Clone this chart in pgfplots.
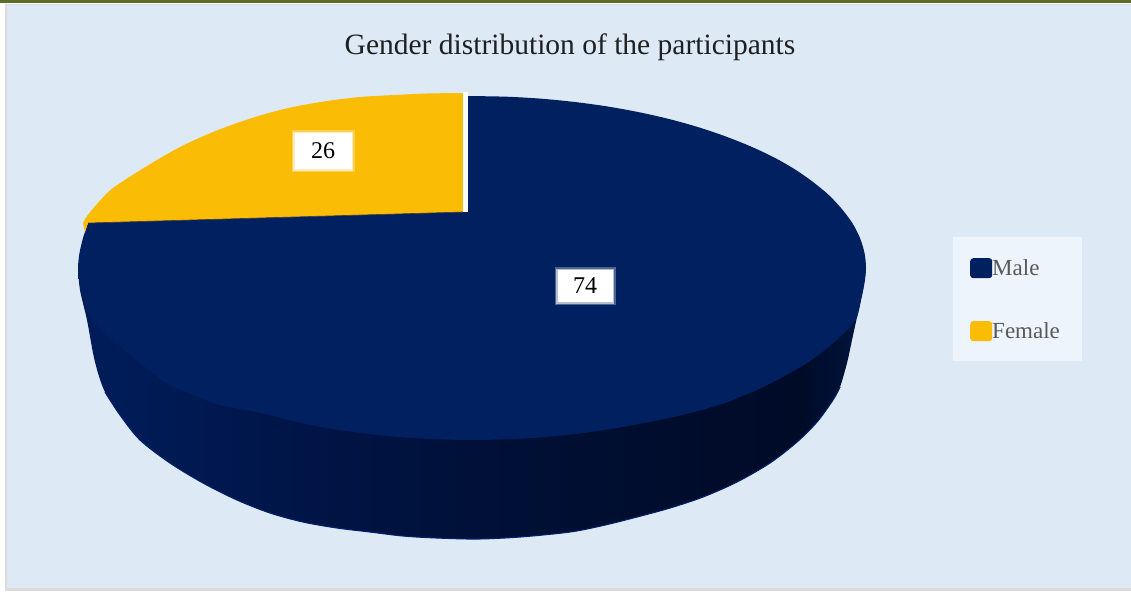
\documentclass[border=0pt]{standalone}
\usepackage{pgfplots}
\pgfplotsset{compat=1.18}
\usepackage{fontspec}
\setmainfont{Liberation Serif}
\definecolor{bgc}{HTML}{DDE9F5}
\definecolor{navy}{HTML}{002060}
\definecolor{gold}{HTML}{FBBC05}
\definecolor{rim}{HTML}{00226B}
\definecolor{legbg}{HTML}{EEF4FB}
\definecolor{legtx}{HTML}{595959}
\definecolor{sa}{HTML}{001C58}
\definecolor{sb}{HTML}{001547}
\definecolor{sc}{HTML}{001038}
\definecolor{sd}{HTML}{000C2A}
\definecolor{se}{HTML}{000B28}
\definecolor{sf}{HTML}{00163F}
\pgfdeclarehorizontalshading{sideshade}{100bp}{color(0bp)=(sa);color(27bp)=(sa);color(39bp)=(sb);color(50bp)=(sc);color(65bp)=(sd);color(71bp)=(se);color(75bp)=(sf);color(100bp)=(sf)}
\begin{document}
\begin{tikzpicture}
\begin{axis}[
  scale only axis, width=1131pt, height=592pt,
  xmin=0, xmax=1131, ymin=0, ymax=592, y dir=reverse,
  hide axis, clip=true,
  legend cell align=left,
  legend style={at={(axis cs:953,237)}, anchor=north west, draw=none, fill=none,
    font=\fontsize{23}{26}\selectfont\color{legtx},
    inner xsep=17pt, inner ysep=21pt, row sep=43pt,
    /tikz/every even column/.append style={column sep=0pt},
    nodes={inner sep=0pt, anchor=base west}, minimum height=0pt, text height=14pt, text depth=0pt},
  legend image code/.code={\fill[#1,rounded corners=3pt] (0pt,-3pt) rectangle (22pt,17pt);},
]
% page frame
\addplot[forget plot, draw=none, fill=white] coordinates {(0,0)(1131,0)(1131,592)(0,592)} -- cycle;
\addplot[forget plot, draw=none, fill=black!14] coordinates {(5,4)(1131,4)(1131,591)(5,591)} -- cycle;
\addplot[forget plot, draw=none, fill=bgc] coordinates {(7,5)(1131,5)(1131,588)(7,588)} -- cycle;
\addplot[forget plot, draw=none, fill={rgb,255:red,91;green,110;blue,40}] coordinates {(0,0)(1131,0)(1131,2.5)(0,2.5)} -- cycle;
% legend panel
\addplot[forget plot, draw=none, fill=legbg] coordinates {(953,237)(1082,237)(1082,361)(953,361)} -- cycle;
% side wall
\addplot[forget plot, draw=none, shading=sideshade, smooth, tension=0.5] coordinates {
 (78,268)(80,290)(87,320)(93,353)(98,373)(105,392)(120,415)(140,440)(170,463)(203,483)(237,500)(270,513)(303,522)(337,528)(370,532)(403,536)(437,538)(477,539)(520,537)(570,532)(603,525.5)(637,517)(670,508)(703,497)(737,482)(770,463)(797,442)(817,422)(833,400)(840,387)(847,363)(852,340)(857,317)(863,290)(866,268)};
\addplot[forget plot, rim, line width=1.1pt, smooth, tension=0.5] coordinates {
 (105,392)(120,415)(140,440)(170,463)(203,483)(237,500)(270,513)(303,522)(337,528)(370,532)(403,536)(437,538)(477,539)(520,537)(570,532)(603,525.5)(637,517)(670,508)(703,497)(737,482)(770,463)(797,442)(817,422)(833,400)(840,387)};
% Male slice
\addplot[draw=none, fill=navy, smooth, tension=0.5] coordinates {
 (468,96)(506.4,96.7)(540,98.6)(574,101.9)(607,106.4)(638.5,112.1)(669,119)(698,127.1)(725,136.2)(750.6,146.4)(774,157.4)(794.8,169.3)(813,182)(829.1,195.3)(842,209.2)(852.6,223.5)(860,238.1)(864.5,253)(866,268)
 (864.5,283)(861,300)(857,317)(849,328)(840,337)(825,350)(807,363)(790,373)(773,382)(757,390)(740,397)(725,403)(698,411)(669,418)(638.5,424)(607,429.6)(574,434.1)(540,437.4)(506.4,439.3)(472,440)
 (437.6,439.3)(404,437.4)(370,434.1)(337,429.6)(305.5,423.9)(270,415)(246,410)(220,405)(195,396)(170,385)(145,367)(120,347)(104,332)(90,317)(84,298)(79.5,283)(78,268)(79.5,253)(83,238)(88,223)};
\addlegendentry{Male}
% Female slice
\addplot[draw=none, fill=gold, smooth, tension=0.5] coordinates {
 (463,93)(427,93.5)(394,95)(360,97)(327,101)(293,107)(265,114)(240,122)(213,132)(180,147)(147,166)(113,188)(97,204)(87,216)(83,223)};
\addlegendentry{Female}
\addplot[forget plot, draw=none, fill=gold] coordinates {(83,223)(85,232)(88,223)(463,212)(463,93)(300,125)(150,172)} -- cycle;
\addplot[forget plot, black!75, line width=0.6pt] coordinates {(88,223)(463,212)};
% separating edge
\addplot[forget plot, white!85!bgc, line width=5pt] coordinates {(465.5,92)(465.5,212)};
% data labels
\node[fill=white, opacity=0.3, minimum width=63pt, minimum height=42pt, inner sep=0pt] at (axis cs:323,151) {};
\node[fill=white, opacity=0.6, minimum width=60pt, minimum height=39pt, inner sep=0pt] at (axis cs:323,151) {};
\node[fill=white, minimum width=57pt, minimum height=36pt, inner sep=0pt, font=\fontsize{24}{26}\selectfont] at (axis cs:323,151) {26};
\node[fill=white, opacity=0.3, minimum width=61pt, minimum height=38pt, inner sep=0pt] at (axis cs:585,286) {};
\node[fill=white, opacity=0.6, minimum width=58pt, minimum height=35pt, inner sep=0pt] at (axis cs:585,286) {};
\node[fill=white, minimum width=55pt, minimum height=32pt, inner sep=0pt, font=\fontsize{24}{26}\selectfont] at (axis cs:585,286) {74};
% title
\node[font=\fontsize{29.5}{32}\selectfont, text=black!88] at (axis cs:570,47) {Gender distribution of the participants};
\end{axis}
\end{tikzpicture}
\end{document}
